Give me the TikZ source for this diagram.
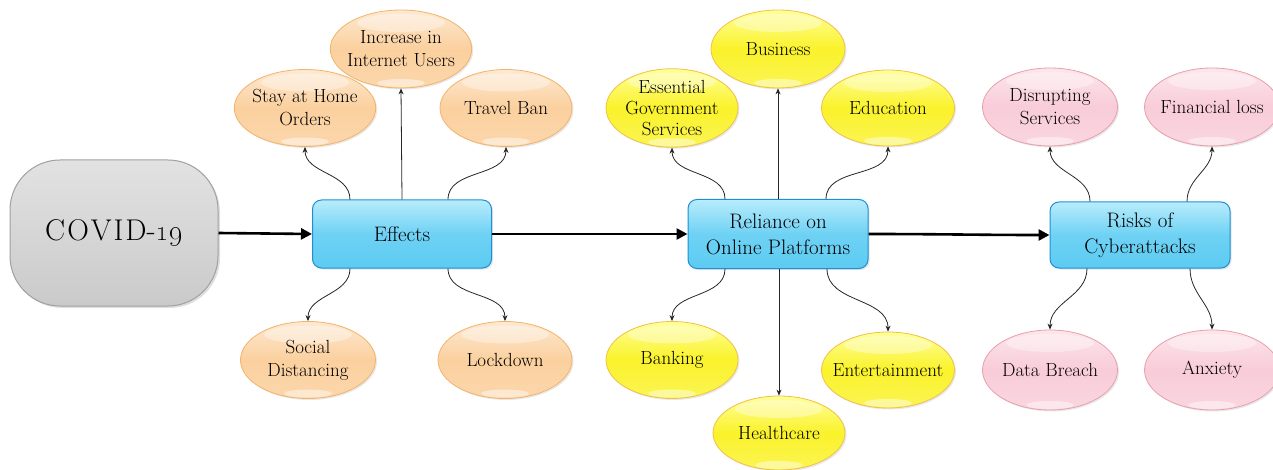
\documentclass[tikz,border=0pt]{standalone}
\usetikzlibrary{shapes.geometric,arrows.meta,shadows}
\definecolor{ornT}{HTML}{FDE9D2}
\definecolor{ornM}{HTML}{FBD09E}
\definecolor{ornB}{HTML}{F3B36A}
\definecolor{yelT}{HTML}{FFFF9A}
\definecolor{yelM}{HTML}{FAF22A}
\definecolor{yelB}{HTML}{F0C04A}
\definecolor{pnkT}{HTML}{FCE6EC}
\definecolor{pnkM}{HTML}{F8CCD8}
\definecolor{pnkB}{HTML}{E7A0A8}
\definecolor{bluT}{HTML}{B8ECFC}
\definecolor{bluM}{HTML}{5CCBF2}
\definecolor{bluB}{HTML}{1E8FD5}
\definecolor{gryT}{HTML}{E2E2E2}
\definecolor{gryM}{HTML}{D6D6D6}
\definecolor{gryL}{HTML}{CACACA}
\definecolor{gryB}{HTML}{A0A0A0}
\tikzset{
  ell/.style={ellipse, minimum width=134pt, minimum height=77pt, inner sep=0pt,
    align=center, text=black, font=\fontsize{19}{23}\selectfont, line width=0.8pt,
    drop shadow={opacity=0.18, shadow xshift=1.5pt, shadow yshift=-1.5pt},
    path picture={
      \fill[white,opacity=0.35] ([yshift=-13pt]path picture bounding box.north) ellipse (44pt and 9pt);
      \fill[white,opacity=0.45] ([yshift=5pt]path picture bounding box.south) ellipse (24pt and 4pt);
    }},
  orng/.style={ell, draw=ornB, top color=ornT, bottom color=ornM!85!white, middle color=ornM},
  yell/.style={ell, draw=yelB, top color=yelT, bottom color=yelM!80!white, middle color=yelM},
  pink/.style={ell, draw=pnkB, top color=pnkT, bottom color=pnkM!80!white, middle color=pnkM},
  bbox/.style={rectangle, rounded corners=9pt, minimum width=179pt, minimum height=68pt,
    inner sep=0pt, align=center, text=black, font=\fontsize{21}{26}\selectfont,
    draw=bluB, line width=1pt, top color=bluT, bottom color=bluM, middle color=bluM!80!bluT,
    drop shadow={opacity=0.2, shadow xshift=1.5pt, shadow yshift=-1.5pt}},
  covbox/.style={rectangle, rounded corners=50pt, minimum width=208pt, minimum height=146pt,
    inner sep=0pt, text=black, font=\fontsize{30}{36}\selectfont,
    draw=gryB, line width=1pt, top color=gryT, bottom color=gryL, middle color=gryM,
    drop shadow={opacity=0.25, shadow xshift=2pt, shadow yshift=-2pt}},
  thin arrow/.style={draw=black!85, line width=0.8pt, -{Stealth[length=6pt,width=5pt]}},
  main arrow/.style={draw=black, line width=2.6pt, -{Triangle[length=11pt,width=11pt]}}
}
\begin{document}
\begin{tikzpicture}[x=1pt,y=1pt]
\useasboundingbox (0,0) rectangle (1273,-470);
% main nodes
\node[covbox] (cov) at (114,-233) {C\kern2pt O\kern2pt V\kern2pt I\kern2pt D-\oldstylenums{19}};
\node[bbox] (eff) at (402,-234) {Effects};
\node[bbox, minimum height=69pt, minimum width=180pt] (rel) at (778,-234) {Reliance on\\Online Platforms};
\node[bbox, minimum height=66pt, minimum width=180pt] (risk) at (1140,-235) {Risks of\\Cyberattacks};
% orange
\node[orng] (stay) at (305,-108) {\makebox[100pt]{Stay at Home}\\Orders};
\node[orng, minimum width=132pt, minimum height=78pt] (inc) at (401,-49) {Increase in\\\makebox[100pt]{Internet Users}};
\node[orng, minimum width=132pt] (trav) at (506,-108) {Travel Ban};
\node[orng, minimum width=135pt] (soc) at (308,-360) {Social\\Distancing};
\node[orng] (lock) at (505,-360) {Lockdown};
% yellow
\node[yell, minimum width=132pt] (ess) at (672,-108) {Essential\\[-2pt]Government\\[-2pt]Services};
\node[yell, minimum width=134pt, minimum height=78pt] (bus) at (778,-49) {Business};
\node[yell, minimum width=133pt, minimum height=76pt] (edu) at (888,-108) {Education};
\node[yell, minimum width=132pt] (bank) at (672,-360) {Banking};
\node[yell, minimum width=132pt, minimum height=74pt] (hea) at (779,-433) {Healthcare};
\node[yell, minimum width=133pt, minimum height=76pt] (ent) at (888,-370) {\makebox[90pt]{Entertainment}};
% pink
\node[pink, minimum width=135pt, minimum height=78pt] (dis) at (1050,-107) {Disrupting\\Services};
\node[pink, minimum width=135pt, minimum height=78pt] (fin) at (1212,-107) {\makebox[90pt]{Financial loss}};
\node[pink, minimum width=135pt, minimum height=80pt] (data) at (1050,-370) {\makebox[90pt]{Data Breach}};
\node[pink, minimum width=135pt, minimum height=80pt] (anx) at (1212,-370) {Anxiety};
% main arrows
\draw[main arrow] (cov.east) -- (eff.west);
\draw[main arrow] (eff.east) -- (rel.west);
\draw[main arrow] (rel.east) to[out=0,in=180] (risk.west);
% effects children
\draw[thin arrow] ([xshift=-52pt]eff.north) to[out=90,in=-90] (stay.south);
\draw[thin arrow] (eff.north) -- (inc.south);
\draw[thin arrow] ([xshift=46pt]eff.north) to[out=90,in=-90] (trav.south);
\draw[thin arrow] ([xshift=-52pt]eff.south) to[out=-90,in=90] (soc.north);
\draw[thin arrow] ([xshift=46pt]eff.south) to[out=-90,in=90] (lock.north);
% reliance children
\draw[thin arrow] ([xshift=-53pt]rel.north) to[out=90,in=-90] (ess.south);
\draw[thin arrow] (rel.north) -- (bus.south);
\draw[thin arrow] ([xshift=48pt]rel.north) to[out=90,in=-90] (edu.south);
\draw[thin arrow] ([xshift=-53pt]rel.south) to[out=-90,in=90] (bank.north);
\draw[thin arrow] ([xshift=1pt]rel.south) -- (hea.north);
\draw[thin arrow] ([xshift=49pt]rel.south) to[out=-90,in=90] (ent.north);
% risks children
\draw[thin arrow] ([xshift=-50pt]risk.north) to[out=90,in=-90] (dis.south);
\draw[thin arrow] ([xshift=47pt]risk.north) to[out=90,in=-90] (fin.south);
\draw[thin arrow] ([xshift=-53pt]risk.south) to[out=-90,in=90] (data.north);
\draw[thin arrow] ([xshift=50pt]risk.south) to[out=-90,in=90] (anx.north);
\end{tikzpicture}
\end{document}
